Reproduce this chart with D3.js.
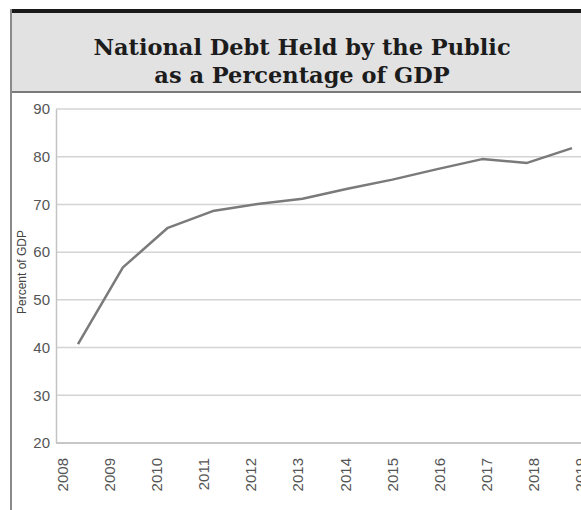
<!DOCTYPE html>
<html>
<head>
<meta charset="utf-8">
<script src="https://cdn.jsdelivr.net/npm/d3@7"></script>
<style>
    body { margin: 0; background: #fff; }
    svg { display: block; }
</style>
</head>
<body>
<svg id="drawing_region"></svg>
<script>
// values
const years = [2008, 2009, 2010, 2011, 2012, 2013, 2014, 2015, 2016, 2017, 2018, 2019];
const debtPct = [40.7, 56.8, 65.1, 68.6, 70.1, 71.2, 73.3, 75.2, 77.4, 79.5, 78.7, 81.8];
const yTicks = [20, 30, 40, 50, 60, 70, 80, 90];
const titleLines = ["National Debt Held by the Public", "as a Percentage of GDP"];
const yLabel = "Percent of GDP";

const config = {
    parent: '#drawing_region',
    width: 581,
    height: 510
};

class DebtChart {

    constructor( config ) {
        this.config = config;
        this.init();
    }

    init() {
        let self = this;
        self.svg = d3.select( self.config.parent )
            .attr('width', self.config.width)
            .attr('height', self.config.height);

        self.y = d3.scaleLinear()
            .domain([20, 90])
            .range([443, 109]);

        // line points sit a bit to the right of the year labels in the original
        self.x = d3.scaleLinear()
            .domain([2008, 2019])
            .range([78, 572]);

        self.xLabel = d3.scaleLinear()
            .domain([2008, 2019])
            .range([62.5, 580]);
    }

    render() {
        let self = this;
        const W = self.config.width;

        // frame + title box
        self.svg.append('rect')
            .attr('x', 11).attr('y', 12)
            .attr('width', W - 11).attr('height', 80)
            .attr('fill', '#e2e2e2');
        self.svg.append('rect')
            .attr('x', 10).attr('y', 9)
            .attr('width', W - 10).attr('height', 4)
            .attr('fill', '#1a1a1a');
        self.svg.append('line')
            .attr('x1', 11).attr('x2', W)
            .attr('y1', 92).attr('y2', 92)
            .attr('stroke', '#7a7a7a').attr('stroke-width', 2);
        self.svg.append('line')
            .attr('x1', 11).attr('x2', 11)
            .attr('y1', 9).attr('y2', self.config.height)
            .attr('stroke', '#8a8a8a').attr('stroke-width', 2);

        self.svg.selectAll('.title')
            .data(titleLines)
            .enter()
            .append('text')
            .attr('x', 302)
            .attr('y', (d, i) => 55 + i * 28)
            .attr('text-anchor', 'middle')
            .attr('font-family', '"DejaVu Serif", serif')
            .attr('font-weight', 'bold')
            .attr('font-size', '22.5px')
            .attr('fill', '#1c1c1c')
            .text(d => d);

        // gridlines
        self.svg.append('g')
            .selectAll('line')
            .data(yTicks)
            .enter()
            .append('line')
            .attr('x1', 56).attr('x2', W)
            .attr('y1', d => self.y(d)).attr('y2', d => self.y(d))
            .attr('stroke', d => d === 20 ? '#b5b5b5' : '#d4d4d4')
            .attr('stroke-width', 1.5);

        // y axis
        const yAxis = self.svg.append('g')
            .attr('transform', 'translate(56,0)')
            .call(d3.axisLeft(self.y).tickValues(yTicks).tickSize(0).tickPadding(6));
        yAxis.select('.domain').attr('stroke', '#c4c4c4').attr('stroke-width', 1.5);
        yAxis.selectAll('text')
            .attr('font-family', '"Liberation Sans", Arial, sans-serif')
            .attr('font-size', '15px')
            .attr('fill', '#555');

        // x axis labels
        const xAxis = self.svg.append('g')
            .attr('transform', 'translate(0,443)')
            .call(d3.axisBottom(self.xLabel).tickValues(years).tickFormat(d3.format('d')).tickSize(0));
        xAxis.select('.domain').remove();
        xAxis.selectAll('text')
            .attr('font-family', '"Liberation Sans", Arial, sans-serif')
            .attr('font-size', '15px')
            .attr('fill', '#555')
            .attr('text-anchor', 'end')
            .attr('transform', 'rotate(-90)')
            .attr('x', -15)
            .attr('y', 0)
            .attr('dy', '0.35em');

        self.svg.append('text')
            .attr('transform', 'translate(26,272) rotate(-90)')
            .attr('text-anchor', 'middle')
            .attr('font-family', '"Liberation Sans", Arial, sans-serif')
            .attr('font-size', '12px')
            .attr('fill', '#444')
            .text(yLabel);

        // the debt line
        const line = d3.line()
            .x((d, i) => self.x(years[i]))
            .y(d => self.y(d));

        self.svg.append('path')
            .datum(debtPct)
            .attr('d', line)
            .attr('fill', 'none')
            .attr('stroke', '#7a7a7a')
            .attr('stroke-width', 2.5)
            .attr('stroke-linejoin', 'round');
    }
}

const chart = new DebtChart( config );
chart.render();
</script>
</body>
</html>
